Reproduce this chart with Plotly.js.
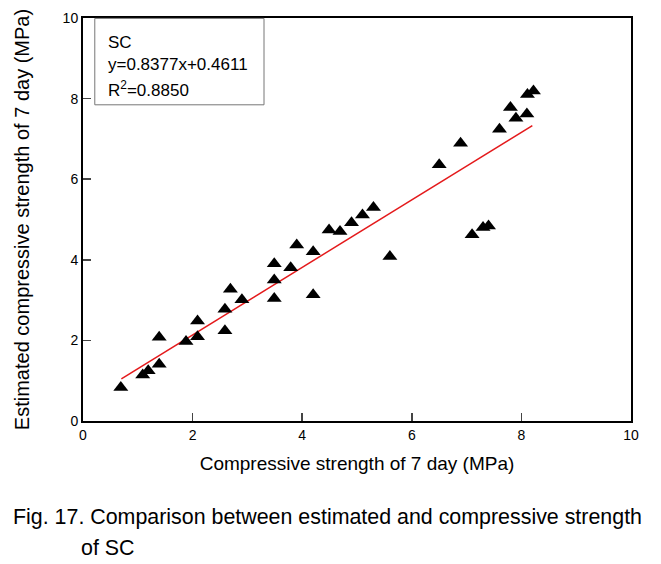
<!DOCTYPE html>
<html>
<head>
<meta charset="utf-8">
<script src="https://cdn.plot.ly/plotly-3.0.1.min.js"></script>
<style>html,body{margin:0;padding:0;background:#fff;}#chart{width:661px;height:564px;}</style>
</head>
<body>
<div id="chart"></div>
<script>
var measured = [0.69,1.09,1.19,1.39,1.39,1.88,2.09,2.09,2.59,2.59,2.69,2.90,3.49,3.49,3.49,3.79,3.90,4.20,4.20,4.49,4.69,4.90,5.10,5.30,5.60,6.50,6.89,7.60,7.80,7.90,8.10,8.11,8.22,7.10,7.30,7.40];
var estimated = [0.83,1.14,1.25,1.41,2.08,1.97,2.48,2.09,2.24,2.77,3.27,3.01,3.90,3.50,3.04,3.80,4.37,4.20,3.13,4.74,4.70,4.92,5.11,5.30,4.08,6.36,6.89,7.24,7.78,7.51,7.62,8.10,8.19,4.62,4.80,4.84];
var slope = 0.8377, intercept = 0.4611;
var fitX = [0.7, 8.2];
var fitY = fitX.map(function(x){return slope*x + intercept;});
var xTicks = [0,2,4,6,8,10];
var yTicks = [0,2,4,6,8,10];

var font = 'Liberation Sans, Arial, sans-serif';
var data = [
  {x: fitX, y: fitY, mode: 'lines', line: {color: '#e41a1c', width: 1.5}, hoverinfo: 'skip'},
  {x: measured, y: estimated, mode: 'markers', marker: {symbol: 'triangle-up', size: 13, color: '#000'}}
];
var layout = {
  width: 661, height: 564,
  margin: {l: 83, r: 30, t: 18, b: 143},
  showlegend: false,
  paper_bgcolor: '#fff', plot_bgcolor: '#fff',
  font: {family: font, color: '#000'},
  xaxis: {range: [0,10], tickvals: xTicks, ticks: 'inside', ticklen: 8, tickwidth: 1.5, showgrid: false, zeroline: false,
          showline: true, linewidth: 2, linecolor: '#000', mirror: true, tickfont: {size: 14},
          title: {text: 'Compressive strength of 7 day (MPa)', font: {size: 19}, standoff: 15}},
  yaxis: {range: [0,10], tickvals: yTicks, ticks: 'inside', ticklen: 8, tickwidth: 1.5, showgrid: false, zeroline: false,
          showline: true, linewidth: 2, linecolor: '#000', mirror: true, tickfont: {size: 14},
          title: {text: 'Estimated compressive strength of 7 day (MPa)', font: {size: 20}, standoff: 28}},
  shapes: [
    {type: 'rect', xref: 'paper', yref: 'paper', x0: 0.0215, x1: 0.3303, y0: 0.7846, y1: 0.9990, line: {color: '#777', width: 1}, fillcolor: 'rgba(0,0,0,0)'}
  ],
  annotations: [
    {xref: 'paper', yref: 'paper', x: 0.042, y: 0.940, xanchor: 'left', yanchor: 'middle', showarrow: false, text: 'SC', font: {size: 17}},
    {xref: 'paper', yref: 'paper', x: 0.042, y: 0.884, xanchor: 'left', yanchor: 'middle', showarrow: false, text: 'y=0.8377x+0.4611', font: {size: 17}},
    {xref: 'paper', yref: 'paper', x: 0.042, y: 0.823, xanchor: 'left', yanchor: 'middle', showarrow: false, text: 'R<sup>2</sup>=0.8850', font: {size: 17}},
    {xref: 'paper', yref: 'paper', x: -0.131, y: -0.238, xanchor: 'left', yanchor: 'middle', showarrow: false,
     text: 'Fig. 17. Comparison between estimated and compressive strength', font: {size: 21.4}},
    {xref: 'paper', yref: 'paper', x: -0.007, y: -0.315, xanchor: 'left', yanchor: 'middle', showarrow: false,
     text: 'of SC', font: {size: 21.4}}
  ]
};
Plotly.newPlot('chart', data, layout, {displayModeBar: false, staticPlot: true});
</script>
</body>
</html>
